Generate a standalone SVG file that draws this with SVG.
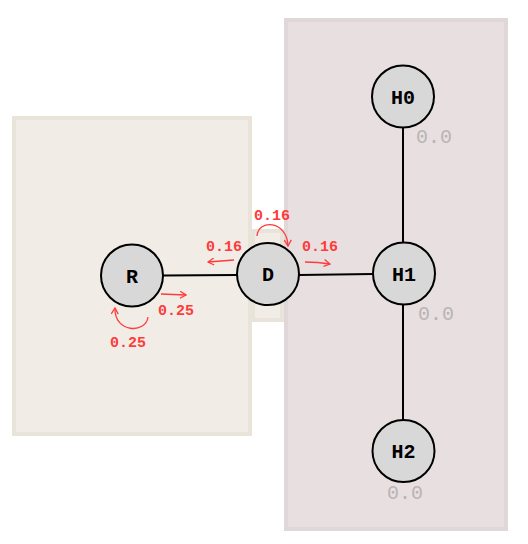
<svg xmlns="http://www.w3.org/2000/svg" width="528" height="544" viewBox="0 0 528 544">
<style>
.cl-a{fill:#f1ede6;stroke:#e9e4da;stroke-width:4}
.cl-b{fill:#e8e0e0;stroke:#e0d8d8;stroke-width:4}
.node circle{fill:#d8d8d8;stroke:#000;stroke-width:2}
.node text{font-family:"Liberation Mono","Courier New",monospace;font-weight:bold;font-size:20px;text-anchor:middle;fill:#000}
.edge{stroke:#000;stroke-width:2;fill:none}
.flow{stroke:#ff3b3b;stroke-width:1.3;fill:none}
.flab{font-family:"Liberation Mono","Courier New",monospace;font-weight:bold;font-size:15px;fill:#ff3b3b;text-anchor:middle}
.val{font-family:"Liberation Mono","Courier New",monospace;font-size:20px;fill:#b8b4b4;text-anchor:middle}
</style>
<defs>
<marker id="ah" markerWidth="8" markerHeight="8" refX="7" refY="4" orient="auto" markerUnits="userSpaceOnUse">
<path d="M1,0.5 L7,4 L1,7.5" fill="none" stroke="#ff3b3b" stroke-width="1.3"/>
</marker>
</defs>
<rect width="528" height="544" fill="#fff"/>
<g id="clusters">
<rect id="cluster-left" class="cl-a" x="14" y="118" width="236" height="316"/>
<rect id="cluster-d" class="cl-a" x="253" y="231" width="29" height="89"/>
<rect id="cluster-right" class="cl-b" x="286" y="20" width="220" height="509"/>
</g>
<g id="connectors">
<line class="edge" x1="163" y1="275.5" x2="237" y2="275"/>
<line class="edge" x1="299" y1="275" x2="373" y2="274"/>
<line class="edge" x1="403" y1="127" x2="403" y2="242"/>
<line class="edge" x1="403" y1="304" x2="403" y2="420"/>
</g>
<g id="flows">
<path class="flow" d="M234,260 Q221,261 208,262" marker-end="url(#ah)"/>
<path class="flow" d="M305,262 Q318,262 330,264" marker-end="url(#ah)"/>
<path class="flow" d="M257,236 C258,219 287,220 288,246" marker-end="url(#ah)"/>
<path class="flow" d="M161,294 L186,295" marker-end="url(#ah)"/>
<path class="flow" d="M148,317 C146,334 114,333 115,308" marker-end="url(#ah)"/>
<text class="flab" x="272" y="220">0.16</text>
<text class="flab" x="224" y="251">0.16</text>
<text class="flab" x="320" y="251">0.16</text>
<text class="flab" x="176" y="315">0.25</text>
<text class="flab" x="128" y="347">0.25</text>
</g>
<g id="node-R" class="node"><circle cx="132" cy="275.5" r="31"/><text x="132" y="282.5">R</text></g>
<g id="node-D" class="node"><circle cx="268" cy="274" r="31"/><text x="268" y="281">D</text></g>
<g id="node-H1" class="node"><circle cx="404" cy="273.5" r="31"/><text x="404" y="280.5">H1</text></g>
<g id="node-H0" class="node"><circle cx="403" cy="96.5" r="31"/><text x="403" y="103.5">H0</text></g>
<g id="node-H2" class="node"><circle cx="403.5" cy="451" r="31"/><text x="403.5" y="458">H2</text></g>
<g id="values">
<text class="val" x="434" y="143">0.0</text>
<text class="val" x="436" y="320">0.0</text>
<text class="val" x="405" y="499">0.0</text>
</g>
</svg>
